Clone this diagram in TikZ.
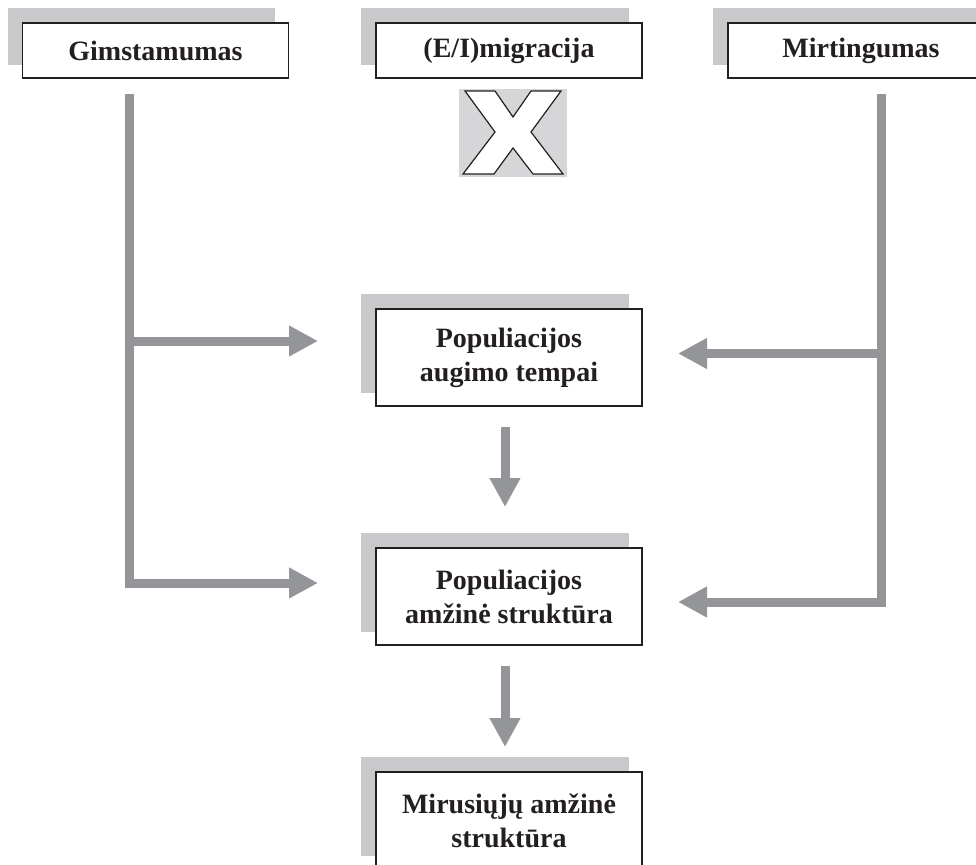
\documentclass[tikz,border=0pt]{standalone}
\usepackage{fontspec}
\setmainfont{Liberation Serif}
\usetikzlibrary{arrows.meta,backgrounds}

\definecolor{bargray}{RGB}{147,149,152}
\definecolor{shadegray}{RGB}{201,201,203}
\definecolor{crossbg}{RGB}{214,214,216}
\definecolor{ink}{RGB}{35,31,32}

\tikzset{
  mainbox/.style={draw=ink, line width=1.4pt, fill=white, inner sep=0pt,
    minimum width=266pt, text=ink, align=center,
    font=\bfseries\fontsize{28}{34}\selectfont},
  shadowfill/.style={fill=shadegray},
  bar/.style={draw=bargray, line width=9pt, line join=miter},
  bararrow/.style={bar, -{Triangle[length=29pt,width=29pt]}}
}

\newcommand{\boxshadow}[1]{%
  \fill[shadowfill] ([shift={(-14,-14)}]#1.south west) rectangle ([shift={(-14,-14)}]#1.north east);}

\begin{document}
\begin{tikzpicture}[x=1pt,y=-1pt]
  \useasboundingbox (0,0) rectangle (976,864);
  \clip (0,0) rectangle (976,864);

  % top row
  \node[mainbox, minimum height=55pt] (gim) at (155.5,50.5) {Gimstamumas};
  \node[mainbox, minimum height=55pt] (mig) at (509,50.5) {(E/I)migracija};
  \node[mainbox, minimum height=55pt] (mirt) at (861,50.5) {Mirtingumas};

  % middle and bottom boxes
  \node[mainbox, minimum height=97pt] (aug) at (509,357.5) {Populiacijos\\augimo tempai};
  \node[mainbox, minimum height=97pt] (amz) at (509,596.5) {Populiacijos\\amžinė struktūra};
  \node[mainbox, minimum height=97pt] (mir) at (509,820.5) {Mirusiųjų amžinė\\struktūra};

  % drop shadows behind the boxes
  \begin{scope}[on background layer]
    \boxshadow{gim}
    \boxshadow{mig}
    \boxshadow{mirt}
    \boxshadow{aug}
    \boxshadow{amz}
    \boxshadow{mir}
  \end{scope}

  % crossed-out migration
  \node[fill=crossbg, minimum width=108pt, minimum height=88pt, inner sep=0pt] (cross) at (513,133) {};
  \draw[ink, line width=1.2pt, fill=white, line join=miter]
    (465,91) -- (495,91) -- (513,117) -- (531,91) -- (561,91) -- (531,132)
    -- (563,174) -- (533,174) -- (513,148) -- (494,174) -- (463,174)
    -- (495,132) -- cycle;

  % left spine (birth rate)
  \coordinate (Ltop) at (129,94);
  \coordinate (Lmid) at (129,341);
  \coordinate (Ltip1) at (318,341);
  \coordinate (Ltip2) at (318,583);
  \draw[bar] (Ltop) -- (Lmid);
  \draw[bararrow] (Lmid) -- (Ltip1);
  \draw[bararrow] (Ltop) |- (Ltip2);

  % right spine (mortality)
  \coordinate (Rtop) at (881.5,94);
  \coordinate (Rmid) at (881.5,353.5);
  \coordinate (Rtip1) at (678,353.5);
  \coordinate (Rtip2) at (678,602);
  \draw[bar] (Rtop) -- (Rmid);
  \draw[bararrow] (Rmid) -- (Rtip1);
  \draw[bararrow] (Rtop) |- (Rtip2);

  % vertical flow
  \coordinate (D1s) at (505,427);
  \coordinate (D1e) at (505,507);
  \coordinate (D2s) at (505,666);
  \coordinate (D2e) at (505,747);
  \draw[bararrow] (D1s) -- (D1e);
  \draw[bararrow] (D2s) -- (D2e);
\end{tikzpicture}
\end{document}
